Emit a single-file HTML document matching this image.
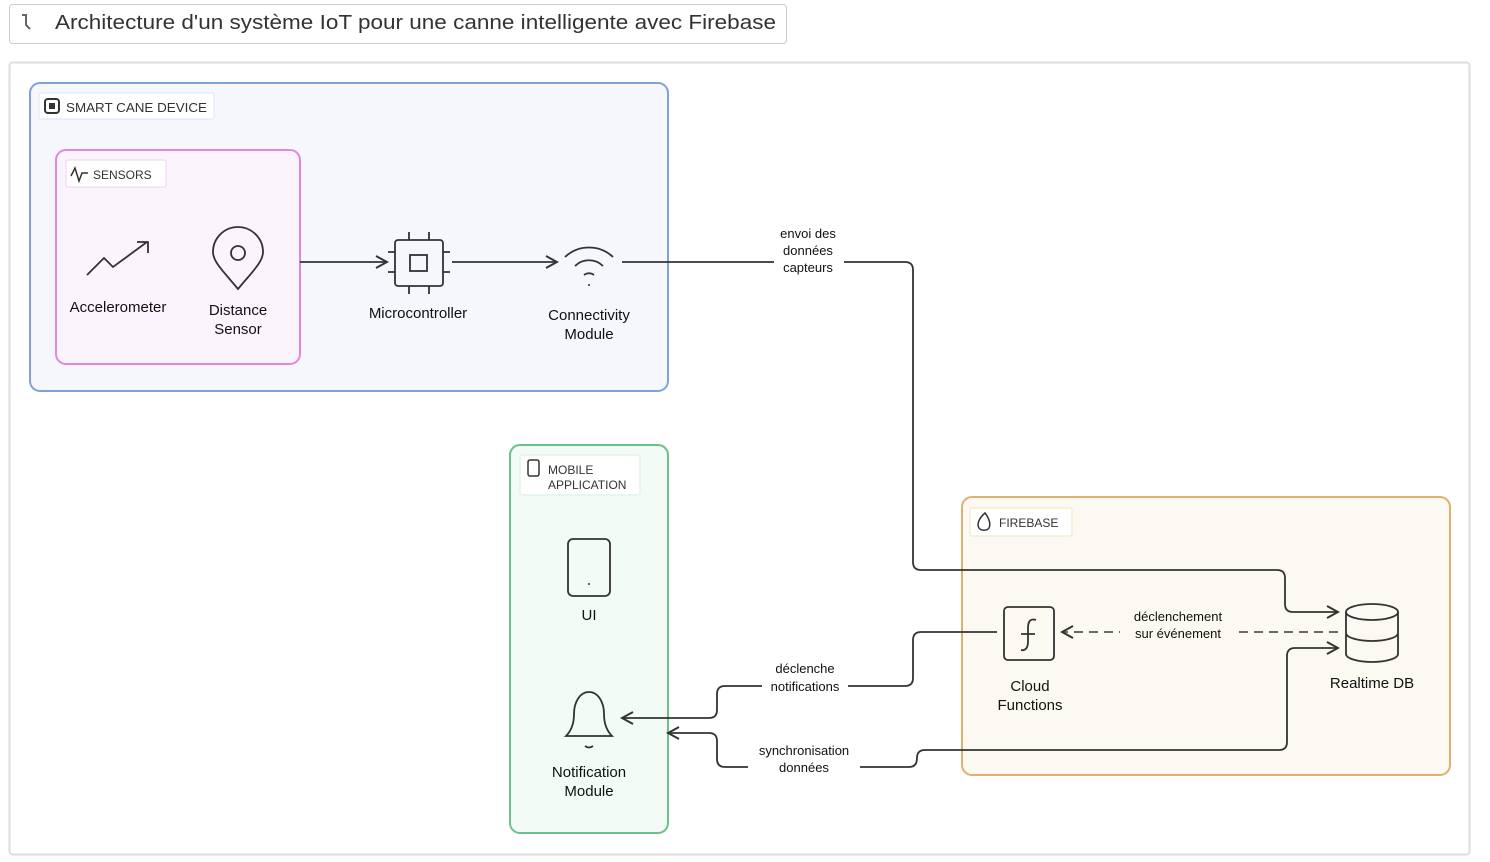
<!DOCTYPE html>
<html><head><meta charset="utf-8"><style>
body{margin:0;background:#fff;width:1490px;height:857px;overflow:hidden;font-family:"Liberation Sans",sans-serif}
</style></head><body>
<svg width="1490" height="857" viewBox="0 0 1490 857" xmlns="http://www.w3.org/2000/svg" font-family="Liberation Sans, sans-serif">
<defs>
<marker id="a" markerWidth="14" markerHeight="14" refX="12" refY="7" orient="auto" markerUnits="userSpaceOnUse">
<path d="M1,1 L12,7 L1,13" fill="none" stroke="#333" stroke-width="2"/></marker>
<marker id="b" markerWidth="14" markerHeight="14" refX="12" refY="7" orient="auto-start-reverse" markerUnits="userSpaceOnUse">
<path d="M1,1 L12,7 L1,13" fill="none" stroke="#333" stroke-width="2"/></marker>
</defs>
<rect x="9.5" y="4.5" width="777" height="39" rx="3" fill="#fff" stroke="#ccc"/>
<path d="M22,15 h4 v10 l4,4" fill="none" stroke="#666" stroke-width="2"/>
<text x="55" y="29" font-size="20" fill="#333" textLength="721" lengthAdjust="spacingAndGlyphs">Architecture d'un système IoT pour une canne intelligente avec Firebase</text>
<rect x="9.5" y="62.5" width="1460" height="792" rx="3" fill="#fff" stroke="#ddd" stroke-width="2"/>

<!-- Smart cane -->
<rect x="30" y="83" width="638" height="308" rx="10" fill="#f5f7fc" stroke="#7fa3d8" stroke-width="2"/>
<rect x="39" y="93" width="175" height="26" rx="2" fill="#fff" stroke="#dce6f5"/>
<rect x="45" y="99" width="14" height="14" rx="3" fill="none" stroke="#333" stroke-width="2"/>
<rect x="49" y="103" width="6" height="6" fill="#333"/>
<text x="66" y="112" font-size="13" fill="#333" textLength="141" lengthAdjust="spacingAndGlyphs">SMART CANE DEVICE</text>
<rect x="56" y="150" width="244" height="214" rx="10" fill="#fcf4fc" stroke="#e088e0" stroke-width="2"/>
<rect x="66" y="160" width="100" height="27" rx="2" fill="#fff" stroke="#f0d0f0"/>
<path d="M71,176 l4,-8 l4,13 l3,-8 h6" fill="none" stroke="#333" stroke-width="1.5"/>
<text x="93" y="179" font-size="12" fill="#333">SENSORS</text>
<path d="M87,275 l17,-17 l9,9 l34,-25 M137,242 h11 v11" fill="none" stroke="#333" stroke-width="1.8"/>
<text x="118" y="312" font-size="15" fill="#111" text-anchor="middle">Accelerometer</text>
<path d="M238,289 C224,272 213,262 213,252 A25,25 0 0 1 263,252 C263,262 252,272 238,289 Z" fill="none" stroke="#333" stroke-width="1.8"/>
<circle cx="238" cy="253" r="7" fill="none" stroke="#333" stroke-width="1.8"/>
<text x="238" y="315" font-size="15" fill="#111" text-anchor="middle">Distance</text>
<text x="238" y="334" font-size="15" fill="#111" text-anchor="middle">Sensor</text>
<line x1="300" y1="262" x2="387" y2="262" stroke="#333" stroke-width="1.8" marker-end="url(#a)"/>
<rect x="395" y="240" width="48" height="46" rx="3" fill="none" stroke="#333" stroke-width="1.8"/>
<rect x="410" y="255" width="17" height="16" fill="none" stroke="#333" stroke-width="1.8"/>
<path d="M409,232v8 M429,232v8 M409,286v8 M429,286v8 M388,252h7 M388,272h7 M443,252h7 M443,272h7" stroke="#333" stroke-width="1.8"/>
<text x="418" y="318" font-size="15" fill="#111" text-anchor="middle">Microcontroller</text>
<line x1="452" y1="262" x2="557" y2="262" stroke="#333" stroke-width="1.8" marker-end="url(#a)"/>
<path d="M565,257 a35,35 0 0 1 48,0 M575,266 a20,20 0 0 1 28,0 M584,275 a8,8 0 0 1 10,0" fill="none" stroke="#333" stroke-width="1.8"/>
<circle cx="589" cy="285" r="1" fill="#333"/>
<text x="589" y="320" font-size="15" fill="#111" text-anchor="middle">Connectivity</text>
<text x="589" y="339" font-size="15" fill="#111" text-anchor="middle">Module</text>

<!-- Mobile -->
<rect x="510" y="445" width="158" height="388" rx="10" fill="#f3fbf6" stroke="#6cc08a" stroke-width="2"/>
<rect x="520" y="455" width="120" height="40" rx="2" fill="#fff" stroke="#d6efdf"/>
<rect x="528" y="460" width="11" height="16" rx="2" fill="none" stroke="#333" stroke-width="1.5"/>
<text x="548" y="474" font-size="12" fill="#333">MOBILE</text>
<text x="548" y="489" font-size="12" fill="#333">APPLICATION</text>
<rect x="568" y="539" width="42" height="57" rx="5" fill="none" stroke="#333" stroke-width="1.8"/>
<circle cx="589" cy="584" r="1" fill="#333"/>
<text x="589" y="620" font-size="15" fill="#111" text-anchor="middle">UI</text>
<path d="M566,736 h46 c-6,-6 -8,-14 -8,-22 c0,-12 -6,-22 -15,-22 c-9,0 -15,10 -15,22 c0,8 -2,16 -8,22 Z" fill="none" stroke="#333" stroke-width="1.8"/>
<path d="M585,746 q4,3 8,0" fill="none" stroke="#333" stroke-width="1.8"/>
<text x="589" y="777" font-size="15" fill="#111" text-anchor="middle">Notification</text>
<text x="589" y="796" font-size="15" fill="#111" text-anchor="middle">Module</text>

<!-- Firebase -->
<rect x="962" y="497" width="488" height="278" rx="10" fill="#fcf9f2" stroke="#e0b070" stroke-width="2"/>
<rect x="970" y="508" width="102" height="28" rx="2" fill="#fff" stroke="#f3e2c6"/>
<path d="M985,513 c-7,6 -8,12 -6,15 c2,3 8,3 10,0 c2,-4 0,-10 -4,-15 Z" fill="none" stroke="#333" stroke-width="1.5"/>
<text x="999" y="527" font-size="12" fill="#333">FIREBASE</text>
<rect x="1004" y="607" width="50" height="53" rx="4" fill="none" stroke="#333" stroke-width="1.8"/>
<path d="M1036,620 c-6,-2 -8,2 -8,8 v14 c0,6 -3,9 -7,8 M1021,634 h14" fill="none" stroke="#333" stroke-width="1.8"/>
<text x="1030" y="691" font-size="15" fill="#111" text-anchor="middle">Cloud</text>
<text x="1030" y="710" font-size="15" fill="#111" text-anchor="middle">Functions</text>
<ellipse cx="1372" cy="612" rx="26" ry="8" fill="none" stroke="#333" stroke-width="1.8"/>
<path d="M1346,612 v42 a26,8 0 0 0 52,0 v-42 M1346,633 a26,8 0 0 0 52,0" fill="none" stroke="#333" stroke-width="1.8"/>
<text x="1372" y="688" font-size="15" fill="#111" text-anchor="middle">Realtime DB</text>

<!-- connectors -->
<path d="M622,262 H905 Q913,262 913,270 V562 Q913,570 921,570 H1277 Q1285,570 1285,578 V604 Q1285,612 1293,612 H1338" fill="none" stroke="#333" stroke-width="1.8" marker-end="url(#a)"/>
<rect x="774" y="225" width="70" height="52" fill="#fff"/>
<text x="808" y="238" font-size="13" fill="#111" text-anchor="middle">envoi des</text>
<text x="808" y="255" font-size="13" fill="#111" text-anchor="middle">données</text>
<text x="808" y="272" font-size="13" fill="#111" text-anchor="middle">capteurs</text>
<line x1="1338" y1="632" x2="1062" y2="632" stroke="#555" stroke-width="1.8" stroke-dasharray="9,6" marker-end="url(#a)"/>
<rect x="1120" y="607" width="118" height="36" fill="#fcf9f2"/>
<text x="1178" y="621" font-size="13" fill="#111" text-anchor="middle">déclenchement</text>
<text x="1178" y="638" font-size="13" fill="#111" text-anchor="middle">sur événement</text>
<path d="M997,632 H921 Q913,632 913,640 V678 Q913,686 905,686 H725 Q717,686 717,694 V710 Q717,718 709,718 H622" fill="none" stroke="#333" stroke-width="1.8" marker-end="url(#a)"/>
<rect x="762" y="658" width="86" height="36" fill="#fff"/>
<text x="805" y="673" font-size="13" fill="#111" text-anchor="middle">déclenche</text>
<text x="805" y="691" font-size="13" fill="#111" text-anchor="middle">notifications</text>
<path d="M1338,648 H1295 Q1287,648 1287,656 V742 Q1287,750 1279,750 H925 Q917,750 917,758 Q917,767 909,767 H725 Q717,767 717,759 V741 Q717,733 709,733 H668" fill="none" stroke="#333" stroke-width="1.8" marker-start="url(#b)" marker-end="url(#a)"/>
<rect x="748" y="740" width="112" height="36" fill="#fff"/>
<text x="804" y="755" font-size="13" fill="#111" text-anchor="middle">synchronisation</text>
<text x="804" y="772" font-size="13" fill="#111" text-anchor="middle">données</text>
</svg>
</body></html>
